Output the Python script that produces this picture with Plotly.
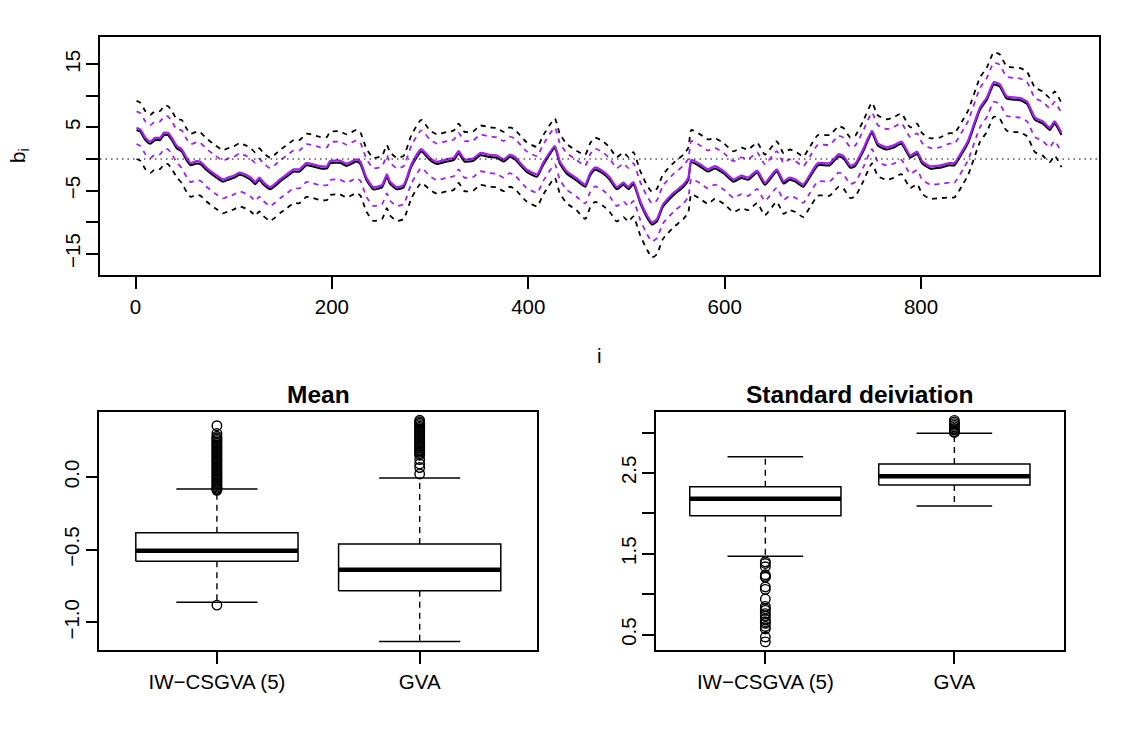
import plotly.graph_objects as go

# ---------------- data: top panel ----------------
idx = [1, 5, 10, 15, 20, 25, 29, 33, 37, 42,
       47, 52, 56, 62, 66, 72, 81, 89, 94, 100,
       106, 113, 118, 122, 126, 130, 137, 142, 147, 154,
       161, 167, 174, 181, 188, 195, 198, 208, 215, 225,
       229, 235, 242, 251, 256, 259, 266, 273, 281, 291,
       300, 307, 317, 324, 329, 335, 344, 351, 361, 368,
       375, 381, 386, 398, 409, 415, 427, 432, 439, 449,
       458, 463, 468, 476, 483, 490, 497, 502, 507, 514,
       521, 526, 531, 537, 548, 558, 563, 566, 575, 583,
       590, 599, 609, 617, 624, 633, 641, 653, 660, 666,
       672, 680, 687, 695, 707, 716, 721, 728, 733, 741,
       750, 756, 765, 772, 780, 789, 796, 801, 809, 819,
       829, 834, 843, 848, 860, 867, 874, 880, 887, 894,
       901, 908, 916, 924, 931, 936, 943]

mean_black = [4.6, 4.3, 3.0, 2.4, 3.0, 3.0, 3.8, 3.8, 3.0, 1.7,
              1.2, -0.2, -1.0, -0.7, -0.8, -1.7, -2.8, -3.6, -3.3, -3.0,
              -2.5, -2.9, -3.4, -4.0, -3.3, -4.0, -4.8, -4.3, -3.6, -2.8,
              -2.0, -2.0, -1.0, -1.2, -1.5, -1.5, -0.7, -0.6, -1.1, -0.4,
              -0.8, -3.3, -4.8, -4.5, -2.8, -3.9, -4.8, -4.5, -1.2, 1.2,
              -0.2, -0.8, -0.4, -0.2, 0.9, -0.4, -0.3, 0.6, 0.3, 0.2,
              -0.4, 0.3, 0.0, -2.0, -2.8, -1.0, 1.7, -0.7, -2.3, -3.4,
              -4.4, -2.6, -1.7, -2.3, -3.3, -4.8, -4.1, -4.8, -4.0, -7.0,
              -9.3, -10.4, -9.9, -7.6, -5.7, -4.4, -3.3, -0.5, -1.2, -2.0,
              -1.5, -2.3, -3.6, -3.0, -3.3, -2.2, -4.1, -2.0, -3.9, -3.3,
              -3.6, -4.4, -2.8, -1.0, -1.0, 0.4, 0.1, -1.4, -1.1, 1.2,
              4.1, 2.1, 1.5, 1.8, 2.4, 0.2, 0.8, -0.7, -1.5, -1.4,
              -1.0, -1.0, 1.2, 2.6, 7.8, 9.4, 11.8, 11.5, 9.6, 9.4,
              9.3, 8.7, 6.2, 5.6, 4.6, 5.6, 3.8]

mean_purple = [4.95, 4.65, 3.35, 2.75, 3.35, 3.35, 4.15, 4.15, 3.35, 2.05,
               1.55, 0.15, -0.65, -0.35, -0.45, -1.35, -2.45, -3.25, -2.95, -2.65,
               -2.15, -2.55, -3.05, -3.65, -2.95, -3.65, -4.45, -3.95, -3.25, -2.45,
               -1.65, -1.65, -0.65, -0.85, -1.15, -1.15, -0.35, -0.25, -0.75, -0.05,
               -0.45, -2.95, -4.45, -4.15, -2.45, -3.55, -4.45, -4.15, -0.85, 1.55,
               0.15, -0.45, -0.05, 0.15, 1.25, -0.05, 0.05, 0.95, 0.65, 0.55,
               -0.05, 0.65, 0.35, -1.65, -2.45, -0.65, 2.05, -0.35, -1.95, -3.05,
               -4.05, -2.25, -1.35, -1.95, -2.95, -4.45, -3.75, -4.45, -3.65, -6.65,
               -8.95, -10.05, -9.55, -7.25, -5.35, -4.05, -2.95, -0.15, -0.85, -1.65,
               -1.15, -1.95, -3.25, -2.65, -2.95, -1.85, -3.75, -1.65, -3.55, -2.95,
               -3.25, -4.05, -2.45, -0.65, -0.65, 0.75, 0.45, -1.05, -0.75, 1.55,
               4.45, 2.45, 1.85, 2.15, 2.75, 0.55, 1.15, -0.35, -1.15, -1.05,
               -0.65, -0.65, 1.55, 2.95, 8.15, 9.75, 12.15, 11.85, 9.95, 9.75,
               9.65, 9.05, 6.55, 5.95, 4.95, 5.95, 4.15]

# half-widths of the dashed intervals around each mean
hw_black = [4.6, 4.6, 4.6, 4.6, 4.6, 4.6, 4.6, 4.6, 4.6, 4.6,
            5.0, 5.0, 5.0, 5.0, 5.0, 5.0, 5.0, 5.0, 5.0, 5.0,
            5.0, 5.0, 5.0, 5.0, 5.0, 5.0, 5.0, 5.0, 5.0, 5.0,
            5.0, 5.0, 5.0, 5.0, 5.0, 5.0, 5.0, 5.0, 5.0, 5.0,
            5.0, 5.0, 5.0, 5.0, 5.0, 5.0, 5.0, 5.0, 5.0, 5.0,
            4.7, 4.7, 4.7, 4.7, 4.7, 4.7, 4.7, 4.7, 4.7, 4.7,
            4.7, 4.7, 4.7, 4.7, 4.7, 4.7, 4.7, 4.7, 4.7, 4.7,
            5.1, 5.1, 5.1, 5.1, 5.1, 5.1, 5.1, 5.1, 5.1, 5.1,
            5.1, 5.2, 5.2, 5.1, 5.1, 5.1, 5.1, 5.1, 5.1, 5.1,
            4.8, 4.8, 4.8, 4.8, 4.8, 4.8, 4.8, 4.8, 4.8, 4.8,
            4.8, 4.8, 4.8, 4.8, 4.8, 4.8, 4.8, 4.8, 4.8, 4.8,
            4.8, 4.8, 4.8, 4.8, 4.8, 4.8, 4.8, 4.8, 4.8, 4.8,
            5.1, 5.1, 5.1, 5.1, 5.1, 5.1, 5.1, 5.1, 5.1, 5.1,
            5.1, 5.1, 5.1, 5.1, 5.1, 5.1, 5.1]

hw_purple = [2.6, 2.6, 2.6, 2.6, 2.6, 2.6, 2.6, 2.6, 2.6, 2.6,
             3.0, 3.0, 3.0, 3.0, 3.0, 3.0, 3.0, 3.0, 3.0, 3.0,
             3.0, 3.0, 3.0, 3.0, 3.0, 3.0, 3.0, 3.0, 3.0, 3.0,
             3.0, 3.0, 3.0, 3.0, 3.0, 3.0, 3.0, 3.0, 3.0, 3.0,
             3.0, 3.0, 3.0, 3.0, 3.0, 3.0, 3.0, 3.0, 3.0, 3.0,
             2.9, 2.9, 2.9, 2.9, 2.9, 2.9, 2.9, 2.9, 2.9, 2.9,
             2.9, 2.9, 2.9, 2.9, 2.9, 2.9, 2.9, 2.9, 2.9, 2.9,
             3.0, 3.0, 3.0, 3.0, 3.0, 3.0, 3.0, 3.0, 3.0, 3.0,
             3.0, 3.0, 3.0, 3.0, 3.0, 3.0, 3.0, 3.0, 3.0, 3.0,
             2.9, 2.9, 2.9, 2.9, 2.9, 2.9, 2.9, 2.9, 2.9, 2.9,
             2.9, 2.9, 2.9, 2.9, 2.9, 2.9, 2.9, 2.9, 2.9, 2.9,
             2.9, 2.9, 2.9, 2.9, 2.9, 2.9, 2.9, 2.9, 2.9, 2.9,
             3.1, 3.1, 3.1, 3.1, 3.1, 3.1, 3.1, 3.1, 3.1, 3.1,
             3.1, 3.1, 3.1, 3.1, 3.1, 3.1, 3.1]

assert len(idx) == len(mean_black) == len(mean_purple) == len(hw_black) == len(hw_purple)

# ---------------- data: boxplots ----------------
methods = ["IW\u2212CSGVA (5)", "GVA"]

# Mean panel: q1, median, q3, lower whisker, upper whisker
mean_q1 = [-0.58, -0.782]
mean_med = [-0.507, -0.638]
mean_q3 = [-0.383, -0.461]
mean_lo = [-0.862, -1.131]
mean_hi = [-0.083, -0.007]
mean_out_iw = [-0.881, -0.092, -0.085, -0.078, -0.07, -0.06, -0.05, -0.04, -0.03,
               -0.02, -0.01, 0.0, 0.01, 0.02, 0.03, 0.04, 0.05, 0.06, 0.07, 0.08,
               0.09, 0.10, 0.11, 0.12, 0.13, 0.14, 0.15, 0.16, 0.17, 0.18, 0.19,
               0.20, 0.21, 0.22, 0.23, 0.24, 0.25, 0.26, 0.27, 0.28, 0.30, 0.353]
mean_out_gva = [0.021, 0.065, 0.09, 0.12, 0.15, 0.16, 0.17, 0.18, 0.19, 0.20, 0.21,
                0.22, 0.23, 0.24, 0.25, 0.26, 0.27, 0.28, 0.29, 0.30, 0.31, 0.32,
                0.33, 0.34, 0.35, 0.36, 0.37, 0.38, 0.39]

# Standard deviation panel
sd_q1 = [1.97, 2.35]
sd_med = [2.18, 2.46]
sd_q3 = [2.33, 2.61]
sd_lo = [1.47, 2.09]
sd_hi = [2.70, 2.99]
sd_out_iw = [1.40, 1.38, 1.34, 1.24, 1.22, 1.21, 1.09, 1.06, 0.94, 0.85, 0.82,
             0.80, 0.76, 0.73, 0.69, 0.66, 0.64, 0.60, 0.57, 0.47, 0.41]
sd_out_gva = [3.00, 3.01, 3.03, 3.05, 3.07, 3.09, 3.11, 3.13, 3.15]

# tick labels
MINUS = "\u2212"
top_x_ticks = [0, 200, 400, 600, 800]
top_y_labeled = [-15, -5, 5, 15]
top_y_text = [MINUS + "15", MINUS + "5", "5", "15"]
top_y_minor = [-10, 0, 10]
mean_y_vals = [-1.0, -0.5, 0.0]
mean_y_text = [MINUS + "1.0", MINUS + "0.5", "0.0"]
sd_y_labeled = [0.5, 1.5, 2.5]
sd_y_text = ["0.5", "1.5", "2.5"]
sd_y_minor = [1.0, 2.0, 3.0]

# ---------------- figure ----------------
W, H = 1125, 750
PURPLE = "#A020F0"
FONT = "Liberation Sans, Arial, Helvetica, sans-serif"
FS = 20.5


def px_x(p):
    return p / W


def px_y(p):
    return 1 - p / H


fig = go.Figure()

upper_b = [m + h for m, h in zip(mean_black, hw_black)]
lower_b = [m - h for m, h in zip(mean_black, hw_black)]
upper_p = [m + h for m, h in zip(mean_purple, hw_purple)]
lower_p = [m - h for m, h in zip(mean_purple, hw_purple)]

dash = "5px,5px"
for ys in (upper_b, lower_b):
    fig.add_trace(go.Scatter(x=idx, y=ys, mode="lines",
                             line=dict(color="black", width=1.8, dash=dash, shape="spline", smoothing=0.5),
                             xaxis="x", yaxis="y", showlegend=False, hoverinfo="skip"))
for ys in (upper_p, lower_p):
    fig.add_trace(go.Scatter(x=idx, y=ys, mode="lines",
                             line=dict(color=PURPLE, width=1.8, dash=dash, shape="spline", smoothing=0.5),
                             xaxis="x", yaxis="y", showlegend=False, hoverinfo="skip"))
fig.add_trace(go.Scatter(x=idx, y=mean_black, mode="lines",
                         line=dict(color="black", width=2.0, shape="spline", smoothing=0.5),
                         xaxis="x", yaxis="y", showlegend=False))
fig.add_trace(go.Scatter(x=idx, y=mean_purple, mode="lines",
                         line=dict(color=PURPLE, width=2.3, shape="spline", smoothing=0.5),
                         xaxis="x", yaxis="y", showlegend=False))

# dotted zero reference line
fig.add_shape(type="line", xref="x domain", yref="y", x0=0, x1=1, y0=0, y1=0,
              line=dict(color="black", width=1.2, dash="1.5px,4px"))


def add_boxes(q1, med, q3, lo, hi, outs, xa, ya):
    halfw, capw = 0.4, 0.2
    for k in range(len(q1)):
        xp = k + 1
        common = dict(xaxis=xa, yaxis=ya, showlegend=False, hoverinfo="skip", mode="lines")
        # whiskers (dashed)
        fig.add_trace(go.Scatter(x=[xp, xp, None, xp, xp], y=[q3[k], hi[k], None, q1[k], lo[k]],
                                 line=dict(color="black", width=1.4, dash="6px,5px"), **common))
        # caps
        fig.add_trace(go.Scatter(x=[xp - capw, xp + capw, None, xp - capw, xp + capw],
                                 y=[hi[k], hi[k], None, lo[k], lo[k]],
                                 line=dict(color="black", width=1.5), **common))
        # box
        fig.add_trace(go.Scatter(x=[xp - halfw, xp + halfw, xp + halfw, xp - halfw, xp - halfw],
                                 y=[q1[k], q1[k], q3[k], q3[k], q1[k]],
                                 fill="toself", fillcolor="white",
                                 line=dict(color="black", width=1.5), **common))
        # median
        fig.add_trace(go.Scatter(x=[xp - halfw, xp + halfw], y=[med[k], med[k]],
                                 line=dict(color="black", width=4.5), **common))
        # outliers
        fig.add_trace(go.Scatter(x=[xp] * len(outs[k]), y=outs[k], mode="markers",
                                 marker=dict(symbol="circle-open", size=9.5, color="black",
                                             line=dict(width=1.4, color="black")),
                                 xaxis=xa, yaxis=ya, showlegend=False))


add_boxes(mean_q1, mean_med, mean_q3, mean_lo, mean_hi, [mean_out_iw, mean_out_gva], "x2", "y2")
add_boxes(sd_q1, sd_med, sd_q3, sd_lo, sd_hi, [sd_out_iw, sd_out_gva], "x3", "y3")

base_axis = dict(showline=True, mirror=True, linecolor="black", linewidth=1.5,
                 ticks="outside", ticklen=12, tickwidth=1.5, tickcolor="black",
                 showgrid=False, zeroline=False,
                 tickfont=dict(family=FONT, size=FS, color="black"))
xaxis_common = dict(base_axis, ticklabelstandoff=1)
yaxis_common = dict(base_axis, ticklabelstandoff=-2, tickangle=-90)
minor_common = dict(ticks="outside", ticklen=12, tickwidth=1.5, tickcolor="black", showgrid=False)

fig.update_layout(
    width=W, height=H, autosize=False,
    margin=dict(l=0, r=0, t=0, b=0),
    paper_bgcolor="white", plot_bgcolor="white",
    font=dict(family=FONT, size=FS, color="black"),
    xaxis=dict(domain=[px_x(100), px_x(1099)], range=[-36.2, 981.2], anchor="y",
               tickvals=top_x_ticks, **xaxis_common),
    yaxis=dict(domain=[px_y(275), px_y(37)], range=[-18.38, 19.33], anchor="x",
               tickvals=top_y_labeled, ticktext=top_y_text,
               minor=dict(tickvals=top_y_minor, **minor_common), **yaxis_common),
    xaxis2=dict(domain=[px_x(99.3), px_x(537.3)], range=[0.42, 2.58], anchor="y2",
                tickvals=[1, 2], ticktext=methods, **xaxis_common),
    yaxis2=dict(domain=[px_y(650), px_y(412.3)], range=[-1.19, 0.445], anchor="x2",
                tickvals=mean_y_vals, ticktext=mean_y_text, **yaxis_common),
    xaxis3=dict(domain=[px_x(655.7), px_x(1064)], range=[0.42, 2.58], anchor="y3",
                tickvals=[1, 2], ticktext=methods, **xaxis_common),
    yaxis3=dict(domain=[px_y(650), px_y(412.3)], range=[0.31, 3.25], anchor="x3",
                tickvals=sd_y_labeled, ticktext=sd_y_text,
                minor=dict(tickvals=sd_y_minor, **minor_common), **yaxis_common),
)

annots = [
    dict(text="i", x=px_x(599.5), y=px_y(355), font=dict(size=FS)),
    dict(text="b<sub>i</sub>", x=px_x(19), y=px_y(156), textangle=-90, font=dict(size=FS)),
    dict(text="<b>Mean</b>", x=px_x(318.3), y=px_y(394), font=dict(size=24.5)),
    dict(text="<b>Standard deiviation</b>", x=px_x(859.9), y=px_y(394), font=dict(size=24.5)),
]
for a in annots:
    fig.add_annotation(xref="paper", yref="paper", showarrow=False,
                       xanchor="center", yanchor="middle", **a)

fig.write_html("out.html")
